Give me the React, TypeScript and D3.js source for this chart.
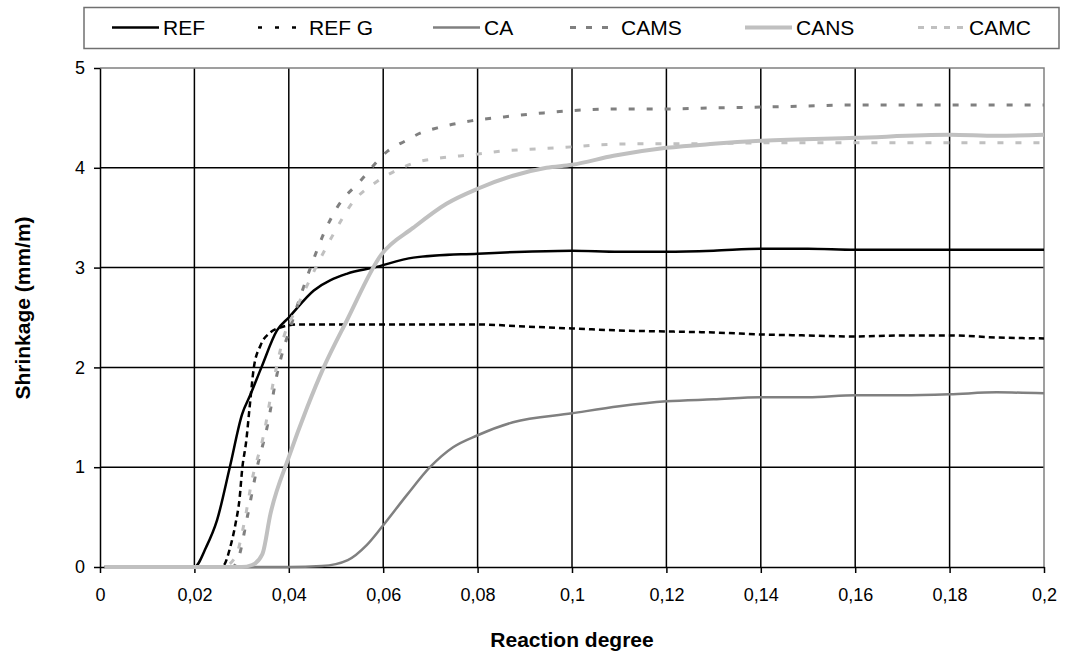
import { useEffect, useRef } from "react";
import * as d3 from "d3";

const W = 1067;
const H = 657;
const PLOT = { left: 100, right: 1044, top: 68, bottom: 567 };
const FONT = "'Liberation Sans', Arial, sans-serif";

type Pt = [number, number];

// reaction degree / shrinkage (mm/m)
const refData: Pt[] = [
  [0.001, 0], [0.01, 0], [0.02, 0], [0.0225, 0.2], [0.0248, 0.47], [0.0275, 1.0],
  [0.0301, 1.53], [0.0319, 1.73], [0.0342, 2.0], [0.0375, 2.37], [0.04, 2.5],
  [0.0453, 2.77], [0.0524, 2.94], [0.058, 3.0], [0.0664, 3.1], [0.08, 3.14],
  [0.09, 3.16], [0.1, 3.17], [0.11, 3.16], [0.12, 3.16], [0.13, 3.17],
  [0.14, 3.19], [0.15, 3.19], [0.16, 3.18], [0.17, 3.18], [0.18, 3.18],
  [0.19, 3.18], [0.2, 3.18],
];
const refGData: Pt[] = [
  [0.001, 0], [0.02, 0], [0.026, 0.01], [0.0276, 0.2], [0.0287, 0.43],
  [0.0296, 0.7], [0.0301, 0.97], [0.031, 1.27], [0.0317, 1.6], [0.0326, 2.0],
  [0.034, 2.22], [0.0361, 2.35], [0.0382, 2.4], [0.0418, 2.43], [0.05, 2.43],
  [0.06, 2.43], [0.07, 2.43], [0.08, 2.43], [0.09, 2.41], [0.1, 2.39],
  [0.11, 2.37], [0.12, 2.36], [0.13, 2.35], [0.14, 2.33], [0.15, 2.32],
  [0.16, 2.31], [0.17, 2.32], [0.18, 2.32], [0.19, 2.3], [0.2, 2.29],
];
const caData: Pt[] = [
  [0.001, 0], [0.04, 0], [0.047, 0.01], [0.0525, 0.07], [0.0565, 0.22],
  [0.0597, 0.4], [0.065, 0.72], [0.0699, 1.0], [0.0748, 1.2], [0.08, 1.32],
  [0.0875, 1.45], [0.1, 1.54], [0.11, 1.61], [0.12, 1.66], [0.13, 1.68],
  [0.14, 1.7], [0.15, 1.7], [0.16, 1.72], [0.17, 1.72], [0.18, 1.73],
  [0.19, 1.75], [0.2, 1.74],
];
const camsData: Pt[] = [
  [0.001, 0], [0.028, 0], [0.0294, 0.1], [0.0312, 0.5], [0.0333, 1.0],
  [0.0354, 1.4], [0.0375, 1.93], [0.041, 2.5], [0.0446, 3.0], [0.0474, 3.34],
  [0.0502, 3.6], [0.0552, 3.87], [0.061, 4.17], [0.0647, 4.27], [0.068, 4.35],
  [0.0715, 4.4], [0.0786, 4.47], [0.0856, 4.51], [0.094, 4.55], [0.1025, 4.58],
  [0.11, 4.59], [0.12, 4.59], [0.13, 4.6], [0.142, 4.61], [0.15, 4.62],
  [0.16, 4.63], [0.18, 4.63], [0.2, 4.63],
];
const cansData: Pt[] = [
  [0.001, 0], [0.03, 0], [0.0322, 0.02], [0.0344, 0.13], [0.0361, 0.53],
  [0.04, 1.1], [0.0439, 1.6], [0.0474, 2.0], [0.0523, 2.47], [0.0596, 3.13],
  [0.0664, 3.4], [0.0734, 3.64], [0.08, 3.79], [0.0875, 3.92], [0.0946, 4.0],
  [0.1, 4.03], [0.1088, 4.12], [0.12, 4.2], [0.13, 4.24], [0.14, 4.27],
  [0.16, 4.3], [0.18, 4.33], [0.19, 4.32], [0.2, 4.33],
];
const camcData: Pt[] = [
  [0.001, 0], [0.026, 0], [0.0287, 0.1], [0.0305, 0.43], [0.0322, 0.87],
  [0.0347, 1.33], [0.0368, 1.87], [0.0389, 2.3], [0.0414, 2.57], [0.0453, 2.96],
  [0.0495, 3.34], [0.0538, 3.67], [0.058, 3.84], [0.0626, 3.97], [0.0667, 4.05],
  [0.0724, 4.1], [0.0788, 4.13], [0.0857, 4.17], [0.0928, 4.19], [0.1, 4.21],
  [0.1055, 4.23], [0.114, 4.24], [0.125, 4.24], [0.14, 4.25], [0.16, 4.25],
  [0.18, 4.25], [0.2, 4.25],
];

const xTicks = [0, 0.02, 0.04, 0.06, 0.08, 0.1, 0.12, 0.14, 0.16, 0.18, 0.2];
const yTicks = [0, 1, 2, 3, 4, 5];

const series = [
  { name: "REF", data: refData, color: "#000000", width: 2.5, dash: null, legendDash: null, legendX: 112 },
  { name: "REF G", data: refGData, color: "#000000", width: 2.5, dash: "6,4", legendDash: "4,13", legendX: 258 },
  { name: "CA", data: caData, color: "#808080", width: 2.5, dash: null, legendDash: null, legendX: 433 },
  { name: "CAMS", data: camsData, color: "#808080", width: 3, dash: "6,12", legendDash: "6,10", legendX: 570 },
  { name: "CANS", data: cansData, color: "#c0c0c0", width: 4, dash: null, legendDash: null, legendX: 745 },
  { name: "CAMC", data: camcData, color: "#c0c0c0", width: 3, dash: "6,12", legendDash: "6,7", legendX: 918 },
];

const fmt = (d: number) => String(d).replace(".", ",");

const App = () => {
  const svgRef = useRef<SVGSVGElement | null>(null);

  useEffect(() => {
    const svg = d3.select(svgRef.current);
    svg.selectAll("*").remove();

    const x = d3.scaleLinear().domain([0, 0.2]).range([PLOT.left, PLOT.right]);
    const y = d3.scaleLinear().domain([0, 5]).range([PLOT.bottom, PLOT.top]);

    svg.append("rect").attr("width", W).attr("height", H).attr("fill", "#fff");

    // grid
    const grid = svg.append("g");
    grid
      .selectAll("line.v")
      .data(xTicks.slice(1, -1))
      .join("line")
      .attr("x1", (d) => x(d))
      .attr("x2", (d) => x(d))
      .attr("y1", PLOT.top)
      .attr("y2", PLOT.bottom)
      .attr("stroke", "#000")
      .attr("stroke-width", 1.5);
    grid
      .selectAll("line.h")
      .data(yTicks.slice(1, -1))
      .join("line")
      .attr("x1", PLOT.left)
      .attr("x2", PLOT.right)
      .attr("y1", (d) => y(d))
      .attr("y2", (d) => y(d))
      .attr("stroke", "#000")
      .attr("stroke-width", 1.5);

    // top and right border
    svg
      .append("path")
      .attr("d", `M${PLOT.left},${PLOT.top}H${PLOT.right}V${PLOT.bottom}`)
      .attr("fill", "none")
      .attr("stroke", "#808080")
      .attr("stroke-width", 1.5);

    // axes
    const xAxis = svg
      .append("g")
      .attr("transform", `translate(0,${PLOT.bottom})`)
      .call(
        d3.axisBottom(x).tickValues(xTicks).tickFormat((d) => fmt(d as number)).tickSize(6).tickSizeOuter(0).tickPadding(15)
      );
    const yAxis = svg
      .append("g")
      .attr("transform", `translate(${PLOT.left},0)`)
      .call(d3.axisLeft(y).tickValues(yTicks).tickFormat((d) => fmt(d as number)).tickSize(6).tickSizeOuter(0).tickPadding(9));
    [xAxis, yAxis].forEach((g) => {
      g.selectAll("path, line").attr("stroke", "#000").attr("stroke-width", 1.5);
      g.selectAll("text").attr("fill", "#000").attr("font-family", FONT).attr("font-size", 18);
    });

    // curves
    const line = d3
      .line<Pt>()
      .x((d) => x(d[0]))
      .y((d) => y(d[1]))
      .curve(d3.curveMonotoneX);

    series.forEach((s) => {
      svg
        .append("path")
        .attr("d", line(s.data))
        .attr("fill", "none")
        .attr("stroke", s.color)
        .attr("stroke-width", s.width)
        .attr("stroke-dasharray", s.dash)
        .attr("stroke-linejoin", "round");
    });

    // axis titles
    svg
      .append("text")
      .attr("x", (PLOT.left + PLOT.right) / 2)
      .attr("y", 647)
      .attr("text-anchor", "middle")
      .attr("font-family", FONT)
      .attr("font-weight", "bold")
      .attr("font-size", 21)
      .text("Reaction degree");
    svg
      .append("text")
      .attr("transform", `translate(30,308) rotate(-90)`)
      .attr("text-anchor", "middle")
      .attr("font-family", FONT)
      .attr("font-weight", "bold")
      .attr("font-size", 21)
      .text("Shrinkage (mm/m)");

    // legend
    const legend = svg.append("g");
    legend
      .append("rect")
      .attr("x", 84)
      .attr("y", 7.5)
      .attr("width", 975)
      .attr("height", 41)
      .attr("fill", "#fff")
      .attr("stroke", "#707070")
      .attr("stroke-width", 1.5);
    series.forEach((s) => {
      legend
        .append("line")
        .attr("x1", s.legendX)
        .attr("x2", s.legendX + 47)
        .attr("y1", 27.5)
        .attr("y2", 27.5)
        .attr("stroke", s.color)
        .attr("stroke-width", s.width)
        .attr("stroke-dasharray", s.legendDash);
      legend
        .append("text")
        .attr("x", s.legendX + 51)
        .attr("y", 35)
        .attr("font-family", FONT)
        .attr("font-size", 21)
        .text(s.name);
    });
  }, []);

  return (
    <svg
      ref={svgRef}
      width={W}
      height={H}
      style={{ position: "absolute", left: 0, top: 0, display: "block" }}
    />
  );
};

export default App;
